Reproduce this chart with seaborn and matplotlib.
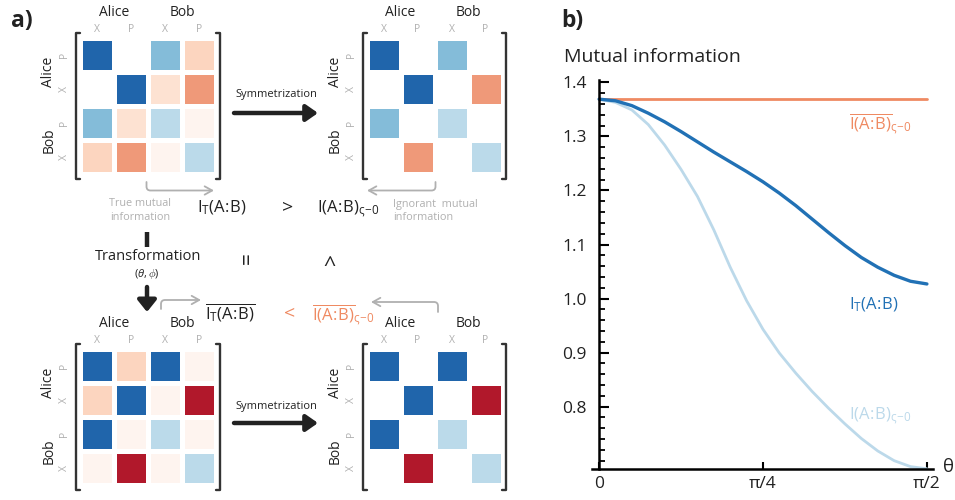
import numpy as np
import pandas as pd
import matplotlib
matplotlib.use("Agg")
import matplotlib.pyplot as plt
import seaborn as sns
from matplotlib.colors import LinearSegmentedColormap
from matplotlib.ticker import MultipleLocator, FixedLocator

# ---------------- data ----------------
quad_cols = ["X", "P", "X", "P"]
quad_rows = ["P", "X", "P", "X"]
parties = ["Alice", "Bob"]

cov_true = [[0.80, 0.00, 0.43, -0.22],
            [0.00, 0.80, -0.16, -0.43],
            [0.43, -0.16, 0.27, -0.06],
            [-0.22, -0.43, -0.06, 0.27]]
cov_true_sym = [[0.80, 0.00, 0.43, 0.00],
                [0.00, 0.80, 0.00, -0.43],
                [0.43, 0.00, 0.27, 0.00],
                [0.00, -0.43, 0.00, 0.27]]
cov_trans = [[0.80, -0.22, 0.80, -0.06],
             [-0.22, 0.80, -0.06, -0.80],
             [0.80, -0.06, 0.27, -0.06],
             [-0.06, -0.80, -0.06, 0.27]]
cov_trans_sym = [[0.80, 0.00, 0.80, 0.00],
                 [0.00, 0.80, 0.00, -0.80],
                 [0.80, 0.00, 0.27, 0.00],
                 [0.00, -0.80, 0.00, 0.27]]

theta_frac = [0.00, 0.05, 0.10, 0.15, 0.20, 0.25, 0.30, 0.35, 0.40, 0.45, 0.50,
              0.55, 0.60, 0.65, 0.70, 0.75, 0.80, 0.85, 0.90, 0.95, 1.00]
mi_sym_avg = [1.369, 1.369, 1.369, 1.369, 1.369, 1.369, 1.369, 1.369, 1.369, 1.369, 1.369,
              1.369, 1.369, 1.369, 1.369, 1.369, 1.369, 1.369, 1.369, 1.369, 1.369]
mi_true = [1.369, 1.366, 1.357, 1.343, 1.327, 1.309, 1.290, 1.271, 1.253, 1.235, 1.216,
           1.195, 1.172, 1.147, 1.122, 1.098, 1.076, 1.058, 1.043, 1.032, 1.027]
mi_sym = [1.369, 1.363, 1.349, 1.322, 1.284, 1.239, 1.189, 1.127, 1.058, 0.996, 0.943,
          0.899, 0.862, 0.828, 0.797, 0.768, 0.741, 0.718, 0.700, 0.689, 0.685]
theta_ticklabels = ["0", "π/4", "π/2"]

# ---------------- style ----------------
sns.set_theme(style="white")
FONT = "Open Sans"
plt.rcParams["font.family"] = [FONT, "DejaVu Sans"]
plt.rcParams["mathtext.fontset"] = "custom"
plt.rcParams["mathtext.rm"] = FONT
plt.rcParams["mathtext.it"] = FONT + ":italic"
plt.rcParams["mathtext.bf"] = FONT + ":bold"

DARK = "#222222"
GRAY = "#b0b0b0"
ORANGE = "#ef8a62"
BLUE = "#2171b5"
LIGHTBLUE = "#bcd9ea"

cmap = LinearSegmentedColormap.from_list(
    "rdbu_white",
    [(0.0, "#67001f"), (0.1, "#b2182b"), (0.2, "#d6604d"), (0.3, "#f4a582"),
     (0.4, "#fddbc7"), (0.5, "#ffffff"), (0.6, "#d1e5f0"), (0.7, "#92c5de"),
     (0.8, "#4393c3"), (0.9, "#2166ac"), (1.0, "#053061")])

W, H = 955, 500
fig = plt.figure(figsize=(W / 100, H / 100), dpi=100)

# overlay axes in pixel coordinates for annotations
ov = fig.add_axes([0, 0, 1, 1])
ov.set_xlim(0, W)
ov.set_ylim(H, 0)
ov.axis("off")

IAB = r"\mathrm{(A}\!:\!\mathrm{B)}"
LBL_T = r"$\mathrm{I}_{\mathrm{T}}" + IAB + "$"
LBL_TBAR = r"$\overline{\mathrm{I}_{\mathrm{T}}" + IAB + "}$"
LBL_S = r"$\mathrm{I}" + IAB + r"_{\mathrm{ς\!-\!0}}$"
LBL_SBAR = r"$\overline{\mathrm{I}" + IAB + r"}_{\mathrm{ς\!-\!0}}$"


def draw_matrix(x0, y0, M, size=136):
    ax = fig.add_axes([x0 / W, 1 - (y0 + size) / H, size / W, size / H])
    data = np.array(M, dtype=float)
    sns.heatmap(data, mask=(data == 0), cmap=cmap, vmin=-1, vmax=1, cbar=False,
                linewidths=2.2, linecolor="white",
                xticklabels=quad_cols, yticklabels=quad_rows, ax=ax)
    ax.xaxis.tick_top()
    ax.tick_params(axis="both", length=0, labelcolor=GRAY, labelsize=7.5)
    ax.tick_params(axis="x", pad=2)
    ax.tick_params(axis="y", pad=7)
    for lbl in ax.get_yticklabels():
        lbl.set_rotation(90)
        lbl.set_va("center")
    for lbl in ax.get_xticklabels():
        lbl.set_rotation(0)
    # party labels
    ax.text(0.25, 1.185, parties[0], transform=ax.transAxes, ha="center",
            va="center", fontsize=10, color=DARK)
    ax.text(0.75, 1.185, parties[1], transform=ax.transAxes, ha="center",
            va="center", fontsize=10, color=DARK)
    ax.text(-0.23, 0.75, parties[0], transform=ax.transAxes, ha="center",
            va="center", fontsize=10, color=DARK, rotation=90)
    ax.text(-0.23, 0.25, parties[1], transform=ax.transAxes, ha="center",
            va="center", fontsize=10, color=DARK, rotation=90)
    # brackets
    t, b, e, h = 1.035, -0.035, 0.028, 0.03
    ax.plot([-e + h, -e, -e, -e + h], [t, t, b, b], transform=ax.transAxes,
            color="#333333", lw=1.7, clip_on=False, solid_joinstyle="round")
    ax.plot([1 + e - h, 1 + e, 1 + e, 1 + e - h], [t, t, b, b], transform=ax.transAxes,
            color="#333333", lw=1.7, clip_on=False, solid_joinstyle="round")
    return ax


draw_matrix(80, 38, cov_true)
draw_matrix(366.5, 38, cov_true_sym)
draw_matrix(80, 349, cov_trans)
draw_matrix(366.5, 349, cov_trans_sym)

# panel labels
ov.text(11, 21, "a)", fontsize=16.5, fontweight="bold", color=DARK, va="center", ha="left")
ov.text(561, 21, "b)", fontsize=16.5, fontweight="bold", color=DARK, va="center", ha="left")

# symmetrization arrows
for ytxt, yarr in [(95, 113), (406, 423)]:
    ov.text(276, ytxt, "Symmetrization", fontsize=8, color=DARK, ha="center", va="center")
    ov.annotate("", xy=(318, yarr), xytext=(234, yarr),
                arrowprops=dict(arrowstyle="-|>,head_length=0.5,head_width=0.35",
                                lw=3.2, color=DARK, shrinkA=0, shrinkB=0,
                                mutation_scale=14))

# middle texts (top row)
ov.text(140, 204, "True mutual", fontsize=7.8, color=GRAY, ha="center", va="center")
ov.text(140, 217, "information", fontsize=7.8, color=GRAY, ha="center", va="center")
ov.text(197, 212, LBL_T, fontsize=12, color=DARK, ha="left", va="baseline")
ov.text(288, 207, ">", fontsize=14, color=DARK, ha="center", va="center")
ov.text(317, 212, LBL_S, fontsize=12, color=DARK, ha="left", va="baseline")
ov.text(393, 204, "Ignorant  mutual", fontsize=7.8, color=GRAY, ha="left", va="center")
ov.text(393, 217, "information", fontsize=7.8, color=GRAY, ha="left", va="center")

# gray bent arrows
garrow = dict(arrowstyle="->,head_length=0.45,head_width=0.25", color=GRAY, lw=1.3,
              shrinkA=0, shrinkB=0, mutation_scale=12)
ov.annotate("", xy=(214, 190.5), xytext=(146.5, 182),
            arrowprops=dict(connectionstyle="angle,angleA=90,angleB=0,rad=4", **garrow))
ov.annotate("", xy=(367, 190.5), xytext=(435.5, 182),
            arrowprops=dict(connectionstyle="angle,angleA=90,angleB=0,rad=4", **garrow))
ov.annotate("", xy=(201, 300), xytext=(161, 309),
            arrowprops=dict(connectionstyle="angle,angleA=90,angleB=0,rad=4", **garrow))
ov.annotate("", xy=(371, 302), xytext=(438, 312),
            arrowprops=dict(connectionstyle="angle,angleA=90,angleB=0,rad=4", **garrow))

# transformation
ov.plot([147, 147], [232, 247], color=DARK, lw=3.2, solid_capstyle="butt")
ov.text(148, 257, "Transformation", fontsize=10.5, color=DARK, ha="center", va="center")
ov.text(147, 274, r"$(\theta,\phi)$", fontsize=8, color=DARK, ha="center", va="center")
ov.annotate("", xy=(147, 312), xytext=(147, 287),
            arrowprops=dict(arrowstyle="-|>,head_length=0.5,head_width=0.4",
                            lw=3.2, color=DARK, shrinkA=0, shrinkB=0, mutation_scale=14))
ov.text(248, 258, "=", fontsize=15, color=DARK, ha="center", va="center", rotation=90)
ov.text(332, 259, ">", fontsize=15, color=DARK, ha="center", va="center", rotation=90)

# bottom row texts
ov.text(205, 319, LBL_TBAR, fontsize=12, color=DARK, ha="left", va="baseline")
ov.text(290, 313, "<", fontsize=14, color=ORANGE, ha="center", va="center")
ov.text(312, 320, LBL_SBAR, fontsize=12, color=ORANGE, ha="left", va="baseline")

# ---------------- panel b ----------------
axb = fig.add_axes([592 / W, 1 - 469.3 / H, 341 / W, (469.3 - 79.7) / H])
axb.set_facecolor("none")
theta = np.array(theta_frac) * np.pi / 2
df = pd.DataFrame({"theta": theta, "avg": mi_sym_avg, "true": mi_true, "sym": mi_sym})
sns.lineplot(data=df, x="theta", y="avg", color=ORANGE, lw=2.0, ax=axb)
sns.lineplot(data=df, x="theta", y="sym", color=LIGHTBLUE, lw=2.0, ax=axb)
sns.lineplot(data=df, x="theta", y="true", color=BLUE, lw=2.4, ax=axb)
axb.set_xlim(-0.034, 1.600)
axb.set_ylim(0.684, 1.405)
sns.despine(ax=axb)
axb.spines["left"].set_position(("data", 0))
for s in ["left", "bottom"]:
    axb.spines[s].set_color("black")
    axb.spines[s].set_linewidth(1.8)
axb.set_xlabel("")
axb.set_ylabel("")
axb.xaxis.set_major_locator(FixedLocator([0, np.pi / 4, np.pi / 2]))
axb.set_xticklabels(theta_ticklabels)
axb.yaxis.set_major_locator(FixedLocator([0.8, 0.9, 1.0, 1.1, 1.2, 1.3, 1.4]))
axb.yaxis.set_minor_locator(MultipleLocator(0.02))
axb.set_yticklabels(["0.8", "0.9", "1.0", "1.1", "1.2", "1.3", "1.4"])
axb.tick_params(axis="y", which="both", left=True, direction="in", color="black")
axb.tick_params(axis="y", which="major", length=7, width=1.5, labelsize=12.5, pad=9,
                labelcolor=DARK)
axb.tick_params(axis="y", which="minor", length=4, width=1.3)
axb.tick_params(axis="x", which="major", bottom=True, direction="in", length=5, width=1.5,
                labelsize=12.5, pad=5, labelcolor=DARK, color="black")
axb.grid(False)

ov.text(564, 57, "Mutual information", fontsize=14, color=DARK, ha="left", va="center")
ov.text(948, 467, "θ", fontsize=13.5, color=DARK, ha="center", va="center")
ov.text(849, 129, LBL_SBAR, fontsize=12, color=ORANGE, ha="left", va="baseline")
ov.text(849, 309, LBL_T, fontsize=12, color=BLUE, ha="left", va="baseline")
ov.text(849, 419, LBL_S, fontsize=12, color=LIGHTBLUE, ha="left", va="baseline")

fig.savefig("out.png", dpi=100)
